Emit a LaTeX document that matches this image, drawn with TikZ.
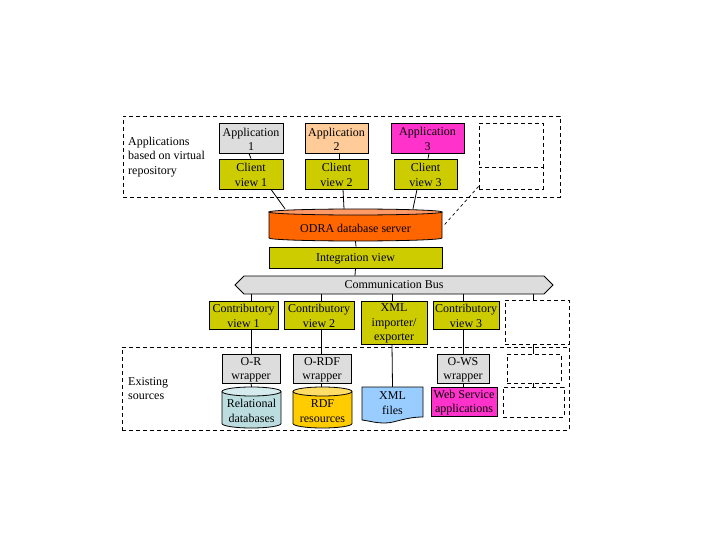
\documentclass[tikz,border=0pt]{standalone}
\usepackage{fontspec}
\setmainfont{Liberation Serif}
\usetikzlibrary{shapes.symbols}
\definecolor{olive}{HTML}{CCCC00}
\definecolor{lgray}{HTML}{DDDDDD}
\definecolor{peach}{HTML}{FFCC99}
\definecolor{magent}{HTML}{FF33CC}
\definecolor{odrabody}{HTML}{FF6600}
\definecolor{odratop}{HTML}{FF9966}
\definecolor{relblue}{HTML}{BBDDE0}
\definecolor{relblue2}{HTML}{D5EBEE}
\definecolor{rdfor}{HTML}{FFCC00}
\definecolor{rdfor2}{HTML}{FFDD66}
\definecolor{xmlblue}{HTML}{99CCFF}
\newcommand{\bx}[7][]{% style, name, x1,y1,x2,y2, text
  \pgfmathsetmacro{\bw}{#5-#3}\pgfmathsetmacro{\bh}{#6-#4}
  \pgfmathsetmacro{\cx}{(#5+#3)/2}\pgfmathsetmacro{\cy}{(#6+#4)/2}
  \node[boxbase,#1,minimum width=\bw pt,minimum height=\bh pt] (#2) at (\cx,\cy) {};
  \node[txt] (#2t) at ([yshift=-1pt]#2.center) {#7};}
\newcommand{\cyl}[9]{% name, x1,y1,x2,y2, ry, body, top, text
  \pgfmathsetmacro{\bw}{#4-#2}\pgfmathsetmacro{\bh}{#5-#3}
  \pgfmathsetmacro{\cx}{(#4+#2)/2}\pgfmathsetmacro{\cy}{(#5+#3)/2}
  \pgfmathsetmacro{\rx}{(#4-#2)/2}\pgfmathsetmacro{\tc}{#3+#6}\pgfmathsetmacro{\bc}{#5-#6}
  \draw[conn,fill=#7] (#2,\tc) -- (#2,\bc) arc[start angle=180,end angle=360,x radius=\rx,y radius=-#6] -- (#4,\tc);
  \draw[conn,fill=#8] (\cx,\tc) ellipse[x radius=\rx,y radius=#6];
  \node[inner sep=0pt,minimum width=\bw pt,minimum height=\bh pt] (#1) at (\cx,\cy) {};
  \node[txt] (#1t) at ([yshift=-3.5pt]#1.center) {#9};}
\tikzset{
  boxbase/.style={rectangle,draw=black,line width=0.8pt,inner sep=0pt},
  txt/.style={inner sep=0pt,align=center,font=\fontsize{12}{14.3}\selectfont},
  olivebox/.style={fill=olive},
  graybox/.style={fill=lgray},
  dashbox/.style={fill=white,dash pattern=on 4pt off 3pt},
  region/.style={draw=black,line width=0.8pt,dash pattern=on 4pt off 3pt},
  conn/.style={draw=black,line width=0.8pt},
  dconn/.style={draw=black,line width=0.7pt,dash pattern=on 3pt off 3pt},
  lbl/.style={anchor=west,inner sep=0pt,align=left,font=\fontsize{12}{14.3}\selectfont}
}
\begin{document}
\begin{tikzpicture}[x=1pt,y=-1pt]
\useasboundingbox (0,0) rectangle (720,540);
% regions
\node[boxbase,region,minimum width=437pt,minimum height=81pt] (top) at (341.5,156.5) {};
\node[boxbase,region,minimum width=447pt,minimum height=83pt] (bot) at (345.5,388.5) {};
\node[lbl] (lblA) at (128,157) {Applications\\based on virtual\\repository};
\node[lbl] (lblB) at (128,388.5) {Existing\\sources};
% top row
\bx[graybox]{app1}{219}{123}{283}{153}{Application\\1}
\bx[fill=peach]{app2}{305}{123}{368}{153}{Application\\2}
\bx[fill=magent]{app3}{391}{123}{464}{153}{Application\\3}
\bx[olivebox]{cv1}{219}{159}{283}{189}{Client\\view 1}
\bx[olivebox]{cv2}{305}{159}{368}{189}{Client\\view 2}
\bx[olivebox]{cv3}{394}{159}{457}{189}{Client\\view 3}
\bx[dashbox]{dtop}{479}{123}{543}{167}{}
\bx[dashbox]{dbot}{479}{167}{543}{189}{}
% server
\cyl{odra}{269}{209}{442}{241}{3}{odrabody}{odratop}{ODRA database server}
\bx[olivebox]{integ}{269}{247}{442}{268}{Integration view}
\node[signal,signal to=west and east,signal pointer angle=90,draw=black,line width=0.8pt,fill=lgray,minimum width=318pt,minimum height=18pt,inner sep=0pt,font=\fontsize{12}{14.3}\selectfont] (bus) at (394,285) {Communication Bus};
% middle
\bx[olivebox]{con1}{209}{301}{278}{329}{Contributory\\view 1}
\bx[olivebox]{con2}{284}{301}{354}{329}{Contributory\\view 2}
\bx[olivebox]{xmli}{361}{301}{427}{344}{XML\\importer/\\exporter}
\bx[olivebox]{con3}{433}{301}{499}{329}{Contributory\\view 3}
\bx[dashbox]{dcon}{505}{300}{569}{344}{}
% wrappers
\bx[graybox]{wr}{222}{354}{280}{383}{O-R\\wrapper}
\bx[graybox]{wrdf}{293}{354}{351}{383}{O-RDF\\wrapper}
\bx[graybox]{wws}{437}{354}{489}{383}{O-WS\\wrapper}
\bx[dashbox]{dwr}{507}{354}{561}{383}{}
% sources
\cyl{rel}{222}{387}{281}{428}{4.5}{relblue}{relblue2}{Relational\\databases}
\cyl{rdf}{293}{387}{352}{428}{4.5}{rdfor}{rdfor2}{RDF\\resources}
\draw[conn,fill=xmlblue] (362,387) -- (423,387) -- (423,417) .. controls (405,417) and (395,423) .. (385,423) .. controls (375,423) and (370,421) .. (362,420) -- cycle;
\node[inner sep=0pt,minimum width=61pt,minimum height=30pt] (xmlf) at (392.5,402) {};
\node[txt] (xmlft) at (392.5,403) {XML\\files};
\bx[fill=magent]{ws}{431}{387}{497}{416}{Web Service\\applications}
\bx[dashbox]{dsrc}{503}{387}{564}{417}{}
% connectors
\draw[conn] ([xshift=-2pt]app1.south) -- (cv1.north);
\draw[conn] ([xshift=2.5pt]app2.south) -- ([xshift=2.5pt]cv2.north);
\draw[conn] ([xshift=1.5pt]app3.south) -- ([xshift=2.5pt]cv3.north);
\draw[conn] ([xshift=20pt]cv1.south) -- ([xshift=-70.5pt]odra.north);
\draw[conn] ([xshift=6.5pt]cv2.south) -- ([xshift=-11.5pt]odra.north);
\draw[conn] ([xshift=-8.5pt]cv3.south) -- ([xshift=57.5pt]odra.north);
\draw[dconn] ([yshift=3pt]dbot.south west) -- ([xshift=2pt]odra.east);
\draw[conn] (odra.south) -- ([xshift=0.5pt]integ.north);
\draw[conn] (integ.south) -- ([xshift=-39pt]bus.north);
\draw[conn] ([xshift=-143pt]bus.south) -- ([xshift=7.5pt]con1.north);
\draw[conn] ([xshift=-73pt]bus.south) -- ([xshift=2pt]con2.north);
\draw[conn] ([xshift=-2pt]bus.south) -- ([xshift=-2pt]xmli.north);
\draw[conn] ([xshift=69pt]bus.south) -- ([xshift=-3pt]con3.north);
\draw[conn] ([xshift=139pt]bus.south) -- ([xshift=-4pt]dcon.north);
\draw[conn] ([xshift=7.5pt]con1.south) -- (wr.north);
\draw[conn] ([xshift=2pt]con2.south) -- ([xshift=-1pt]wrdf.north);
\draw[conn] ([xshift=-3pt]con3.south) -- (wws.north);
\draw[conn] ([xshift=-4pt]dcon.south) -- ([xshift=-1pt]dwr.north);
\draw[conn] ([xshift=-2pt]xmli.south) -- (xmlf.north);
\draw[conn] (wr.south) -- (rel.north);
\draw[conn] ([xshift=-1pt]wrdf.south) -- ([xshift=-1.5pt]rdf.north);
\draw[conn] (wws.south) -- ([xshift=-1pt]ws.north);
\draw[conn] ([xshift=-1pt]dwr.south) -- ([xshift=-0.5pt]dsrc.north);
\end{tikzpicture}
\end{document}
